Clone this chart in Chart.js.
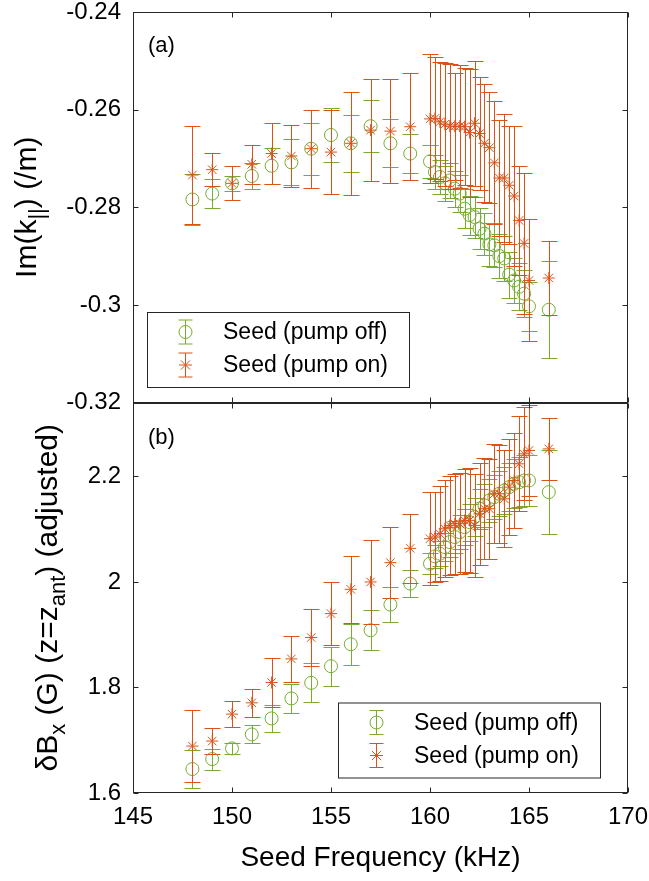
<!DOCTYPE html>
<html>
<head>
<meta charset="utf-8">
<script src="https://cdn.jsdelivr.net/npm/chart.js@4.4.1/dist/chart.umd.min.js"></script>
<style>
    body { margin: 0; background: #fff; }
    #grafico { display: block; }
</style>
</head>
<body>
<canvas id="grafico" width="649" height="881"></canvas>
<script>
// Frecuencias de la semilla (kHz)
const frecuencias = [148, 149, 150, 151, 152, 153, 154, 155, 156, 157, 158, 159,
    160, 160.25, 160.5, 160.75, 161, 161.25, 161.5, 161.75, 162, 162.25, 162.5, 162.75,
    163, 163.25, 163.5, 163.75, 164, 164.25, 164.5, 164.75, 165, 166];

// Panel (a): Im(k||) (/m)
const imApagada = [-0.2784, -0.2772, -0.2751, -0.2736, -0.2715, -0.2708, -0.2680, -0.2652, -0.2669, -0.2634, -0.2669, -0.2690,
    -0.2706, -0.2728, -0.2738, -0.2751, -0.2745, -0.2762, -0.2772, -0.2803, -0.2816, -0.2820, -0.2844, -0.2854,
    -0.2876, -0.2878, -0.2900, -0.2905, -0.2938, -0.2950, -0.2963, -0.2977, -0.3003, -0.3010];
const imApagadaErr = [0.0052, 0.0030, 0.0016, 0.0026, 0.0037, 0.0047, 0.0053, 0.0056, 0.0058, 0.0053, 0.0049, 0.0040,
    0.0034, 0.0035, 0.0035, 0.0036, 0.0036, 0.0037, 0.0038, 0.0040, 0.0040, 0.0042, 0.0042, 0.0043,
    0.0044, 0.0045, 0.0045, 0.0046, 0.0047, 0.0047, 0.0048, 0.0048, 0.0050, 0.0099];
const imEncendida = [-0.2734, -0.2723, -0.2751, -0.2712, -0.2690, -0.2695, -0.2680, -0.2687, -0.2669, -0.2642, -0.2644, -0.2635,
    -0.2619, -0.2618, -0.2625, -0.2630, -0.2634, -0.2634, -0.2634, -0.2635, -0.2647, -0.2628, -0.2649, -0.2669,
    -0.2678, -0.2709, -0.2740, -0.2740, -0.2755, -0.2777, -0.2827, -0.2874, -0.2950, -0.2945];
const imEncendidaErr = [0.0100, 0.0034, 0.0035, 0.0040, 0.0063, 0.0063, 0.0080, 0.0086, 0.0105, 0.0105, 0.0107, 0.0110,
    0.0132, 0.0125, 0.0122, 0.0126, 0.0128, 0.0110, 0.0126, 0.0120, 0.0131, 0.0128, 0.0116, 0.0121,
    0.0114, 0.0126, 0.0118, 0.0132, 0.0121, 0.0143, 0.0112, 0.0145, 0.0125, 0.0075];

// Panel (b): dBx (G)
const bxApagada = [1.6454, 1.6643, 1.6845, 1.7110, 1.7413, 1.7792, 1.8087, 1.8403, 1.8819, 1.9084, 1.9570, 1.9968,
    2.0346, 2.0484, 2.0535, 2.0660, 2.0755, 2.0850, 2.0944, 2.1039, 2.1133, 2.1228, 2.1387, 2.1450,
    2.1544, 2.1607, 2.1671, 2.1733, 2.1796, 2.1860, 2.1890, 2.1922, 2.1922, 2.1701];
const bxApagadaErr = [0.036, 0.020, 0.011, 0.017, 0.025, 0.028, 0.037, 0.037, 0.039, 0.0375, 0.033, 0.025,
    0.020, 0.022, 0.024, 0.026, 0.028, 0.030, 0.032, 0.034, 0.035, 0.036, 0.038, 0.040,
    0.041, 0.042, 0.043, 0.044, 0.045, 0.046, 0.047, 0.048, 0.049, 0.080];
const bxEncendida = [1.6889, 1.6984, 1.7495, 1.7709, 1.8094, 1.8541, 1.8946, 1.9400, 1.9860, 1.9999, 2.0365, 2.0636,
    2.0819, 2.0850, 2.0913, 2.1008, 2.1071, 2.1103, 2.1103, 2.1166, 2.1166, 2.1071, 2.1292, 2.1387,
    2.1387, 2.1671, 2.1671, 2.1576, 2.1796, 2.1922, 2.2238, 2.2427, 2.2490, 2.2521];
const bxEncendidaErr = [0.069, 0.024, 0.024, 0.026, 0.046, 0.043, 0.054, 0.060, 0.063, 0.079, 0.067, 0.066,
    0.088, 0.085, 0.090, 0.092, 0.094, 0.095, 0.096, 0.098, 0.099, 0.098, 0.097, 0.096,
    0.095, 0.094, 0.093, 0.092, 0.091, 0.090, 0.090, 0.088, 0.086, 0.059];

// Marcas de los ejes
const ticksX = [145, 150, 155, 160, 165, 170];
const ticksIm = [-0.32, -0.3, -0.28, -0.26, -0.24];
const ticksBx = [1.6, 1.8, 2.0, 2.2];
const nombresSerie = ['Seed (pump off)', 'Seed (pump on)'];

const FUENTE = "'Liberation Sans', Arial, sans-serif";
const VERDE = '#77AC30';
const NARANJA = '#D95319';
const MARCO = '#262626';

function puntos(valores) {
    return frecuencias.map((f, i) => ({ x: f, y: valores[i] }));
}

function formatearTick(valor) {
    return String(Number(valor.toFixed(2)));
}

// Barras de error, dibujadas justo antes de cada serie
function dibujarBarras(chart, args) {
    const ds = chart.data.datasets[args.index];
    if (!ds.errores) return;
    const ctx = chart.ctx;
    const ejeX = chart.scales.x;
    const ejeY = chart.scales[ds.yAxisID];
    const area = chart.chartArea;
    ctx.save();
    ctx.beginPath();
    ctx.rect(area.left, ejeY.top, area.right - area.left, ejeY.bottom - ejeY.top);
    ctx.clip();
    ctx.strokeStyle = ds.borderColor;
    ctx.lineWidth = 1;
    ds.data.forEach((p, i) => {
        const px = Math.round(ejeX.getPixelForValue(p.x)) + 0.5;
        const arriba = Math.round(ejeY.getPixelForValue(p.y + ds.errores[i])) + 0.5;
        const abajo = Math.round(ejeY.getPixelForValue(p.y - ds.errores[i])) + 0.5;
        ctx.beginPath();
        ctx.moveTo(px, arriba);
        ctx.lineTo(px, abajo);
        ctx.moveTo(px - 8, arriba);
        ctx.lineTo(px + 8, arriba);
        ctx.moveTo(px - 8, abajo);
        ctx.lineTo(px + 8, abajo);
        ctx.stroke();
    });
    ctx.restore();
}

// Texto girado con partes en subíndice
function textoVertical(ctx, partes, cx, cy, tam) {
    let total = 0;
    partes.forEach(p => {
        ctx.font = (p.sub ? Math.round(tam * 0.72) : tam) + 'px ' + FUENTE;
        p.ancho = ctx.measureText(p.t).width;
        total += p.ancho;
    });
    ctx.save();
    ctx.translate(cx, cy);
    ctx.rotate(-Math.PI / 2);
    ctx.textBaseline = 'middle';
    ctx.textAlign = 'left';
    ctx.fillStyle = '#000';
    let pos = -total / 2;
    partes.forEach(p => {
        ctx.font = (p.sub ? Math.round(tam * 0.72) : tam) + 'px ' + FUENTE;
        ctx.fillText(p.t, pos, p.sub ? tam * 0.32 : 0);
        pos += p.ancho;
    });
    ctx.restore();
}

function dibujarLeyenda(ctx, x, y) {
    const ancho = 262, alto = 75;
    ctx.save();
    ctx.fillStyle = '#fff';
    ctx.fillRect(x, y, ancho, alto);
    ctx.strokeStyle = MARCO;
    ctx.lineWidth = 1;
    ctx.strokeRect(x + 0.5, y + 0.5, ancho, alto);
    const colores = [VERDE, NARANJA];
    const estilos = ['circle', 'star'];
    colores.forEach((color, i) => {
        const cy = y + 20 + i * 33;
        const mx = x + 38.5;
        ctx.strokeStyle = color;
        ctx.fillStyle = 'rgba(0,0,0,0)';
        ctx.lineWidth = 1;
        ctx.beginPath();
        ctx.moveTo(mx, cy - 12);
        ctx.lineTo(mx, cy + 12);
        ctx.moveTo(mx - 7, cy - 12);
        ctx.lineTo(mx + 7, cy - 12);
        ctx.moveTo(mx - 7, cy + 12);
        ctx.lineTo(mx + 7, cy + 12);
        ctx.stroke();
        Chart.helpers.drawPoint(ctx, { pointStyle: estilos[i], radius: 6.5, rotation: 0, borderWidth: 1 }, mx, cy);
        ctx.fillStyle = '#000';
        ctx.font = '23px ' + FUENTE;
        ctx.textBaseline = 'middle';
        ctx.textAlign = 'left';
        ctx.fillText(nombresSerie[i], x + 76, cy + 1);
    });
    ctx.restore();
}

const pluginFigura = {
    id: 'figura',
    beforeDatasetDraw: dibujarBarras,
    afterDraw(chart) {
        const ctx = chart.ctx;
        const area = chart.chartArea;
        const ejeX = chart.scales.x;
        const ejeIm = chart.scales.yIm;
        const ejeBx = chart.scales.yBx;
        const izq = Math.round(area.left) + 0.5;
        const der = Math.round(area.right) - 0.5;
        const paneles = [ejeIm, ejeBx];

        ctx.save();
        ctx.strokeStyle = MARCO;
        ctx.lineWidth = 1;
        paneles.forEach(eje => {
            const sup = Math.round(eje.top) + 0.5;
            const inf = Math.round(eje.bottom) - 0.5;
            ctx.strokeRect(izq, sup, der - izq, inf - sup);
            ctx.beginPath();
            ticksX.forEach(v => {
                const px = Math.round(ejeX.getPixelForValue(v)) + 0.5;
                ctx.moveTo(px, sup);
                ctx.lineTo(px, sup + 5);
                ctx.moveTo(px, inf);
                ctx.lineTo(px, inf - 5);
            });
            eje.ticks.forEach(t => {
                const py = Math.round(eje.getPixelForValue(t.value)) + 0.5;
                ctx.moveTo(izq, py);
                ctx.lineTo(izq + 5, py);
                ctx.moveTo(der, py);
                ctx.lineTo(der - 5, py);
            });
            ctx.stroke();
        });

        // Etiquetas de panel
        ctx.fillStyle = '#000';
        ctx.font = '22px ' + FUENTE;
        ctx.textBaseline = 'middle';
        ctx.textAlign = 'left';
        ctx.fillText('(a)', area.left + 15, ejeIm.top + 34);
        ctx.fillText('(b)', area.left + 15, ejeBx.top + 35);

        // Leyendas
        dibujarLeyenda(ctx, area.left + 14, ejeIm.top + 300);
        dibujarLeyenda(ctx, area.left + 205, ejeBx.top + 300);

        // Títulos de los ejes
        ctx.font = '28px ' + FUENTE;
        ctx.textAlign = 'center';
        ctx.fillText('Seed Frequency (kHz)', (area.left + area.right) / 2, 858);
        textoVertical(ctx, [{ t: 'Im(k' }, { t: '||', sub: true }, { t: ') (/m)' }],
            28, (ejeIm.top + ejeIm.bottom) / 2, 30);
        textoVertical(ctx, [{ t: 'δB' }, { t: 'x', sub: true }, { t: ' (G) (z=z' }, { t: 'ant', sub: true }, { t: ') (adjusted)' }],
            49, (ejeBx.top + ejeBx.bottom) / 2, 30);
        ctx.restore();
    }
};

function sinRelleno(eje) {
    eje.paddingTop = 0;
    eje.paddingBottom = 0;
    eje.paddingLeft = 0;
    eje.paddingRight = 0;
}

function crearGrafico() {
    const ctx = document.getElementById('grafico').getContext('2d');
    const fuenteTicks = { family: FUENTE, size: 24 };

    new Chart(ctx, {
        type: 'scatter',
        data: {
            datasets: [
                {
                    label: nombresSerie[0], data: puntos(imApagada), errores: imApagadaErr, yAxisID: 'yIm',
                    borderColor: VERDE, backgroundColor: 'rgba(0,0,0,0)', pointStyle: 'circle',
                    pointRadius: 6.5, borderWidth: 1, order: 2
                },
                {
                    label: nombresSerie[1], data: puntos(imEncendida), errores: imEncendidaErr, yAxisID: 'yIm',
                    borderColor: NARANJA, backgroundColor: 'rgba(0,0,0,0)', pointStyle: 'star',
                    pointRadius: 6, borderWidth: 1, order: 1
                },
                {
                    label: nombresSerie[0], data: puntos(bxApagada), errores: bxApagadaErr, yAxisID: 'yBx',
                    borderColor: VERDE, backgroundColor: 'rgba(0,0,0,0)', pointStyle: 'circle',
                    pointRadius: 6.5, borderWidth: 1, order: 2
                },
                {
                    label: nombresSerie[1], data: puntos(bxEncendida), errores: bxEncendidaErr, yAxisID: 'yBx',
                    borderColor: NARANJA, backgroundColor: 'rgba(0,0,0,0)', pointStyle: 'star',
                    pointRadius: 6, borderWidth: 1, order: 1
                }
            ]
        },
        options: {
            responsive: false,
            animation: false,
            events: [],
            layout: { padding: { left: 0, right: 21, top: 12, bottom: 0 } },
            plugins: {
                legend: { display: false },
                tooltip: { enabled: false }
            },
            scales: {
                x: {
                    type: 'linear',
                    position: 'bottom',
                    min: 145,
                    max: 170,
                    grid: { display: false, drawTicks: false },
                    border: { display: false },
                    afterBuildTicks: eje => { eje.ticks = ticksX.map(v => ({ value: v })); },
                    afterFit: eje => { eje.height = 88; sinRelleno(eje); },
                    ticks: { font: fuenteTicks, color: '#000', padding: 10, maxRotation: 0, autoSkip: false }
                },
                // el primer eje de la pila queda abajo
                yBx: {
                    type: 'linear',
                    position: 'left',
                    stack: 'paneles',
                    stackWeight: 1,
                    min: 1.6,
                    max: 2.34,
                    grid: { display: false, drawTicks: false },
                    border: { display: false },
                    afterBuildTicks: eje => { eje.ticks = ticksBx.map(v => ({ value: v })); },
                    afterFit: eje => { eje.width = 133; sinRelleno(eje); },
                    ticks: { font: fuenteTicks, color: '#000', padding: 12, autoSkip: false, callback: formatearTick }
                },
                yIm: {
                    type: 'linear',
                    position: 'left',
                    stack: 'paneles',
                    stackWeight: 1,
                    min: -0.32,
                    max: -0.24,
                    grid: { display: false, drawTicks: false },
                    border: { display: false },
                    afterBuildTicks: eje => { eje.ticks = ticksIm.map(v => ({ value: v })); },
                    afterFit: eje => { eje.width = 133; sinRelleno(eje); },
                    ticks: { font: fuenteTicks, color: '#000', padding: 12, autoSkip: false, callback: formatearTick }
                }
            }
        },
        plugins: [pluginFigura]
    });
}

crearGrafico();
</script>
</body>
</html>
